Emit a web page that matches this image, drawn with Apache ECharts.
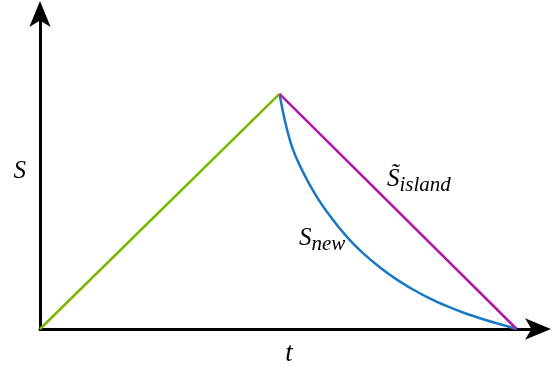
<!DOCTYPE html>
<html>
<head>
<meta charset="utf-8">
<script src="https://cdn.jsdelivr.net/npm/echarts@6/dist/echarts.min.js"></script>
<style>
  html, body { margin: 0; padding: 0; background: #fff; }
  #chart { width: 558px; height: 368px; }
</style>
</head>
<body>
<div id="chart"></div>
<script>
// 数据（单位: t 横轴，S 纵轴）
var risePoints = [[0, 0], [1.01, 1.0]];
var islandPoints = [[1.01, 1.0], [2.01, 0]];
var newT = [1.01, 1.033, 1.063, 1.105, 1.160, 1.223, 1.295, 1.362, 1.434, 1.505, 1.573, 1.645, 1.716, 1.784, 1.855, 1.927, 2.01];
var newS = [1.0, 0.885, 0.774, 0.676, 0.574, 0.481, 0.391, 0.323, 0.262, 0.210, 0.168, 0.129, 0.097, 0.070, 0.046, 0.024, 0];

var serif = 'Liberation Serif';
var myChart = echarts.init(document.getElementById('chart'));

var axisLine = {
    show: true,
    symbol: ['none', 'arrow'],
    symbolSize: [16, 26],
    symbolOffset: [0, 13],
    lineStyle: { color: '#000', width: 3 }
};

var option = {
    backgroundColor: '#fff',
    animation: false,
    grid: { left: 40, right: 20, top: 14, bottom: 39, outerBoundsMode: 'none', containLabel: false },
    xAxis: {
        type: 'value',
        min: 0,
        max: 2.1,
        axisLine: axisLine,
        axisTick: { show: false },
        axisLabel: { show: false },
        splitLine: { show: false },
        name: 't',
        nameLocation: 'middle',
        nameGap: 11,
        nameTextStyle: { fontFamily: serif, fontStyle: 'italic', fontSize: 27, color: '#000' }
    },
    yAxis: {
        type: 'value',
        min: 0,
        max: 1.34,
        axisLine: axisLine,
        axisTick: { show: false },
        axisLabel: { show: false },
        splitLine: { show: false },
        name: 'S',
        nameLocation: 'middle',
        nameRotate: 0,
        nameGap: 14,
        nameTextStyle: { fontFamily: serif, fontStyle: 'italic', fontSize: 25, color: '#000' }
    },
    graphic: [
        {
            type: 'text',
            x: 387,
            y: 179,
            style: {
                text: '{a|S\u0303}{b|island}',
                verticalAlign: 'middle',
                rich: {
                    a: { fontFamily: serif, fontStyle: 'italic', fontSize: 25, fill: '#000' },
                    b: { fontFamily: serif, fontStyle: 'italic', fontSize: 21, fill: '#000', padding: [13, 0, 0, 0] }
                }
            }
        },
        {
            type: 'text',
            x: 299,
            y: 238,
            style: {
                text: '{a|S}{b|new}',
                verticalAlign: 'middle',
                rich: {
                    a: { fontFamily: serif, fontStyle: 'italic', fontSize: 25, fill: '#000' },
                    b: { fontFamily: serif, fontStyle: 'italic', fontSize: 21, fill: '#000', padding: [13, 0, 0, 0] }
                }
            }
        }
    ],
    series: [
        {
            type: 'line',
            data: risePoints,
            symbol: 'none',
            lineStyle: { color: '#77b900', width: 2.5 },
            z: 3
        },
        {
            type: 'line',
            data: islandPoints,
            symbol: 'none',
            lineStyle: { color: '#b117a5', width: 2.5 },
            z: 3
        },
        {
            type: 'line',
            data: newT.map(function (t, i) { return [t, newS[i]]; }),
            symbol: 'none',
            smooth: 0.3,
            lineStyle: { color: '#1a78c2', width: 2.5 },
            z: 2
        }
    ]
};
myChart.setOption(option);
</script>
</body>
</html>
